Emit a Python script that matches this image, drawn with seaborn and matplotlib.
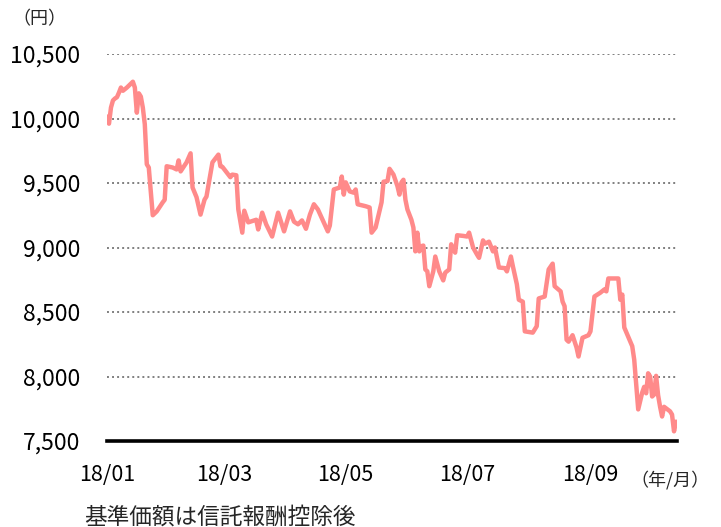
import numpy as np
import pandas as pd
import matplotlib
matplotlib.use("Agg")
import matplotlib.pyplot as plt
import matplotlib.dates as mdates
import seaborn as sns

# ---- data ----
start_date = "2018-01-01"
day_offsets = [0, 1, 2, 3, 4, 5, 6, 7, 8, 10, 12, 13, 14, 15, 16, 17, 18, 19, 20, 21,
               23, 25, 28, 29, 30, 33, 35, 36, 37, 40, 42, 43, 45, 47, 49, 50, 53, 56, 57, 58,
               62, 63, 65, 66, 68, 69, 71, 75, 76, 78, 80, 83, 86, 89, 92, 94, 96, 98, 100, 102,
               104, 106, 111, 112, 114, 117, 118, 119, 120, 122, 124, 125, 126, 130, 132, 133, 135, 138, 139, 141,
               142, 144, 146, 147, 148, 149, 150, 151, 153, 154, 155, 156, 157, 158, 159, 160, 161, 162, 164, 165,
               167, 169, 170, 172, 173, 175, 176, 179, 181, 182, 184, 186, 187, 189, 190, 192, 194, 195, 197, 200,
               201, 203, 204, 206, 207, 209, 210, 212, 214, 216, 217, 220, 222, 224, 225, 228, 229, 230, 231, 232,
               234, 236, 237, 239, 242, 243, 245, 248, 250, 251, 252, 257, 258, 259, 260, 264, 265, 266, 267, 269,
               270, 271, 272, 273, 274, 275, 276, 277, 278, 279, 280, 283, 284, 285, 286]
nav = [10015, 9960, 10085, 10140, 10155, 10165, 10200, 10240, 10215, 10240, 10270, 10285, 10240, 10045, 10195, 10170, 10085, 9955, 9645, 9620,
       9250, 9280, 9350, 9370, 9630, 9620, 9605, 9675, 9590, 9660, 9730, 9465, 9390, 9255, 9370, 9395, 9660, 9720, 9630, 9625,
       9545, 9565, 9560, 9295, 9115, 9285, 9195, 9215, 9140, 9270, 9180, 9085, 9270, 9125, 9280, 9200, 9180, 9210, 9145, 9255,
       9335, 9295, 9125, 9170, 9450, 9465, 9550, 9410, 9505, 9435, 9425, 9450, 9335, 9320, 9310, 9115, 9155, 9350, 9510, 9515,
       9610, 9565, 9475, 9410, 9505, 9525, 9370, 9295, 9215, 9155, 8970, 9115, 8970, 9010, 9015, 8830, 8815, 8700, 8815, 8930,
       8815, 8745, 8805, 8830, 9025, 8960, 9095, 9090, 9085, 9115, 9000, 8945, 8920, 9055, 9030, 9045, 8970, 9000, 8845, 8840,
       8815, 8930, 8855, 8715, 8595, 8580, 8350, 8345, 8340, 8390, 8605, 8620, 8830, 8875, 8700, 8660, 8580, 8545, 8285, 8270,
       8320, 8225, 8155, 8300, 8320, 8350, 8620, 8650, 8675, 8660, 8760, 8760, 8595, 8635, 8380, 8235, 8130, 7940, 7745, 7875,
       7920, 7870, 8025, 8000, 7845, 7860, 8005, 7855, 7765, 7690, 7765, 7730, 7705, 7575, 7650]
y_ticks = [7500, 8000, 8500, 9000, 9500, 10000, 10500]
x_tick_dates = ["2018-01-01", "2018-03-01", "2018-05-01", "2018-07-01", "2018-09-01"]
x_tick_labels = ["18/01", "18/03", "18/05", "18/07", "18/09"]
y_unit = "（円）"
x_unit = "（年/月）"
note = "基準価額は信託報酬控除後"

df = pd.DataFrame({
    "date": pd.Timestamp(start_date) + pd.to_timedelta(day_offsets, unit="D"),
    "nav": nav,
})

sns.set_style("white")
plt.rcParams["font.family"] = ["Noto Sans CJK JP", "DejaVu Sans"]

fig = plt.figure(figsize=(7.21, 5.27), dpi=100)
ax = fig.add_axes([107 / 721, 1 - 441 / 527, (677 - 107) / 721, (441 - 54) / 527])

sns.lineplot(data=df, x="date", y="nav", ax=ax, color="#FF8A8A", linewidth=3.2,
             solid_joinstyle="round", solid_capstyle="round", zorder=3)

ax.set_ylim(7500, 10500)
ax.set_xlim(pd.Timestamp(start_date), pd.Timestamp(start_date) + pd.Timedelta(days=286.5))

ax.set_yticks(y_ticks)
ax.set_yticklabels([f"{v:,}" for v in y_ticks])
ax.set_xticks([pd.Timestamp(d) for d in x_tick_dates])
ax.set_xticklabels(x_tick_labels)

for v in y_ticks[1:]:
    ax.axhline(v, color="#7f7f7f", linestyle=(0, (1, 1.6)), linewidth=1.4, zorder=1)

for s in ["top", "right", "left"]:
    ax.spines[s].set_visible(False)
ax.spines["bottom"].set_color("black")
ax.spines["bottom"].set_linewidth(2.6)
ax.spines["bottom"].set_zorder(4)

ax.tick_params(axis="y", length=0, pad=19, labelsize=16.5, labelcolor="black")
ax.tick_params(axis="x", length=0, pad=16.5, labelsize=15.5, labelcolor="black")
ax.set_xlabel("")
ax.set_ylabel("")
ax.grid(False)

fig.text(12 / 721, 1 - 19 / 527, y_unit, fontsize=13, ha="left", va="center")
fig.text(710 / 721, 1 - 480 / 527, x_unit, fontsize=13, ha="right", va="center")
fig.text(84 / 721, 1 - 517 / 527, note, fontsize=16.3, ha="left", va="center")

fig.savefig("out.png", dpi=100)
